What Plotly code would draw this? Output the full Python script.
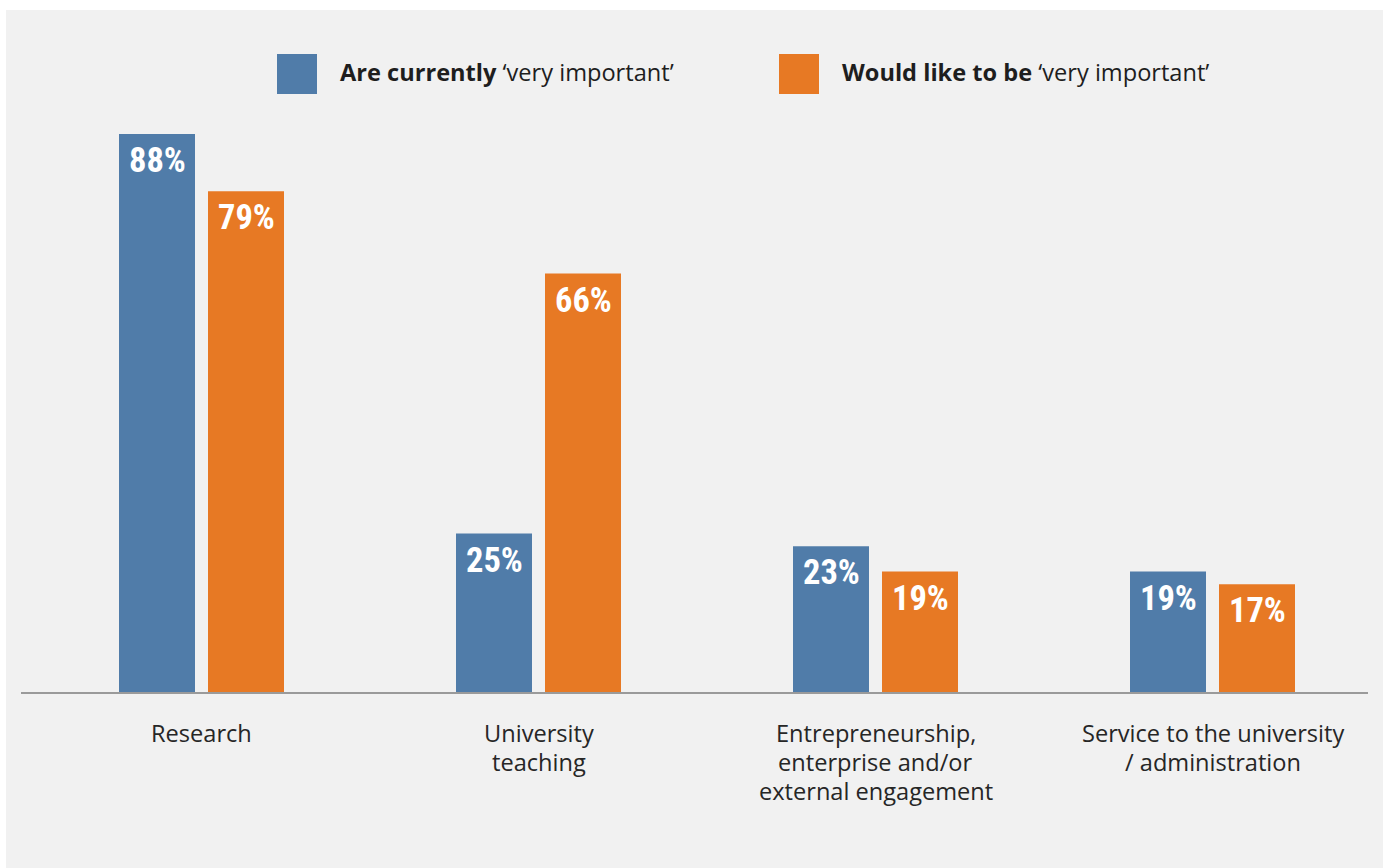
import plotly.graph_objects as go

# Survey: how important each activity is, now vs. desired
categories = ["Research", "University teaching",
              "Entrepreneurship, enterprise and/or external engagement",
              "Service to the university / administration"]
tick_labels = ["Research", "University<br>teaching",
               "Entrepreneurship,<br>enterprise and/or<br>external engagement",
               "Service to the university<br>/ administration"]
current_pct = [88, 25, 23, 19]
desired_pct = [79, 66, 19, 17]
series_names = ["Are currently", "Would like to be"]
series_suffix = "‘very important’"

BLUE = "#507ca9"
ORANGE = "#e77924"
BG = "#f1f1f1"
TEXT = "#262626"

W, H = 1387, 868
ML, MR, MT, MB = 21, 19, 100, 176
PW = W - ML - MR
PH = H - MT - MB
PX_PER_UNIT = 6.34
SLOT = 337.0      # px between category centres
BAR_W = 76.0      # px
GAP = 13.0        # px between paired bars
FIRST_CENTRE = 201.5 - ML
LABEL_OFFSET = 41  # px from axis line to first label line centre
LINE_STEP = 29     # px between label lines

x_lo = -FIRST_CENTRE / SLOT
x_hi = (PW - FIRST_CENTRE) / SLOT
y_hi = PH / PX_PER_UNIT


def px_x(px):
    return (px - ML) / PW


def px_y(py):
    return (H - MB - py) / PH


bw = BAR_W / SLOT
fig = go.Figure()
fig.add_trace(go.Bar(x=list(range(len(categories))), y=current_pct, name=series_names[0],
                     marker=dict(color=BLUE, line=dict(width=0)),
                     width=bw, offset=-(BAR_W + GAP / 2) / SLOT,
                     hovertext=categories))
fig.add_trace(go.Bar(x=list(range(len(categories))), y=desired_pct, name=series_names[1],
                     marker=dict(color=ORANGE, line=dict(width=0)),
                     width=bw, offset=(GAP / 2) / SLOT,
                     hovertext=categories))

# value labels inside the top of each bar
val_font = dict(family="Liberation Sans Narrow, Roboto Condensed, Arial Narrow, sans-serif",
                size=34.5, color="white")
annotations = []
shift = (BAR_W + GAP) / 2
for i, (a, b) in enumerate(zip(current_pct, desired_pct)):
    for v, dx in ((a, -shift), (b, shift)):
        annotations.append(dict(x=i, y=v, xref="x", yref="y", text=f"<b>{v}%</b>",
                                showarrow=False, xshift=dx, yshift=-26,
                                xanchor="center", yanchor="middle", font=val_font))

# category labels under the axis, one annotation per line for tight leading
cat_font = dict(family="Open Sans, sans-serif", size=23.6, color=TEXT)
for i, label in enumerate(tick_labels):
    for k, line in enumerate(label.split("<br>")):
        annotations.append(dict(x=i, y=0, xref="x", yref="y", text=line,
                                showarrow=False, yshift=-(LABEL_OFFSET + LINE_STEP * k),
                                xanchor="center", yanchor="middle", font=cat_font))

# legend built from squares and rich text
leg_font = dict(family="Open Sans, sans-serif", size=23.6, color="#1e1e1e")
shapes = [
    dict(type="rect", xref="paper", yref="paper", layer="below",
         x0=px_x(6), x1=px_x(1383), y0=px_y(900), y1=px_y(10),
         fillcolor=BG, line=dict(width=0)),
]
for sq_x, txt_x, color, name in ((277, 338, BLUE, series_names[0]),
                                 (779, 840, ORANGE, series_names[1])):
    shapes.append(dict(type="rect", xref="paper", yref="paper",
                       x0=px_x(sq_x), x1=px_x(sq_x + 40), y0=px_y(94), y1=px_y(54),
                       fillcolor=color, line=dict(width=0)))
    annotations.append(dict(x=px_x(txt_x), y=px_y(72), xref="paper", yref="paper",
                            text=f"<b>{name}</b> {series_suffix}", showarrow=False,
                            xanchor="left", yanchor="middle", font=leg_font))

fig.update_layout(
    width=W, height=H,
    margin=dict(l=ML, r=MR, t=MT, b=MB, pad=0),
    paper_bgcolor="white", plot_bgcolor="rgba(0,0,0,0)",
    showlegend=False, barmode="overlay",
    shapes=shapes, annotations=annotations,
    xaxis=dict(range=[x_lo, x_hi], tickmode="array",
               tickvals=list(range(len(categories))), showticklabels=False,
               showline=True, linecolor="#9a9a9a", linewidth=2, ticks="",
               showgrid=False, zeroline=False),
    yaxis=dict(range=[0, y_hi], visible=False, showgrid=False, zeroline=False),
)

fig.write_html("out.html")
